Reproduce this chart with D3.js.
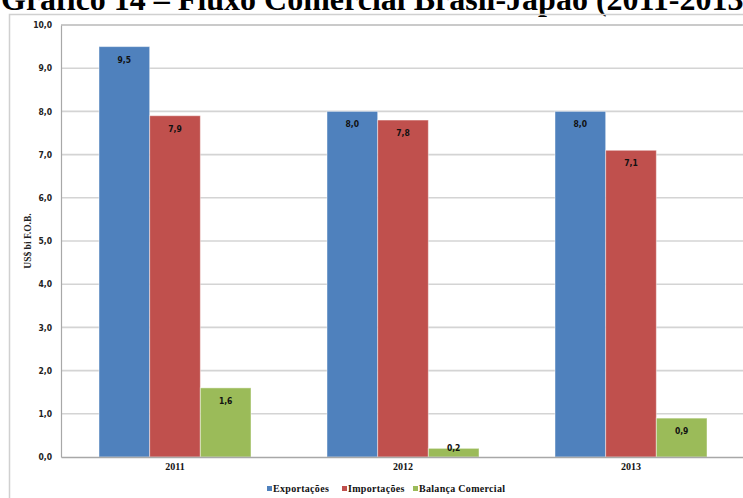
<!DOCTYPE html>
<html>
<head>
<meta charset="utf-8">
<script src="https://cdn.jsdelivr.net/npm/d3@7"></script>
<style>
  html, body { margin: 0; padding: 0; background: #fff; overflow: hidden; }
  svg { display: block; }
</style>
</head>
<body>
<svg id="chart" width="743" height="498"></svg>
<script>
// Trade flow Brazil–Japan, US$ billions F.O.B.
const years = ["2011", "2012", "2013"];
const seriesNames = ["Exportações", "Importações", "Balança Comercial"];
const exportacoes = [9.5, 8.0, 8.0];
const importacoes = [7.9, 7.8, 7.1];
const balanca = [1.6, 0.2, 0.9];
const yTicks = [0, 1, 2, 3, 4, 5, 6, 7, 8, 9, 10];
const colors = ["#4f81bd", "#c0504d", "#9bbb59"];

const seriesValues = [exportacoes, importacoes, balanca];
const rows = years.map((y, i) => ({
  year: y,
  values: seriesNames.map((s, k) => ({ key: s, value: seriesValues[k][i], k }))
}));

const svg = d3.select("#chart");
const W = 743, H = 498;
const plot = { left: 61, right: 745, top: 25, bottom: 457 };

const fmt = v => d3.format(".1f")(v).replace(".", ",");

// Title (runs past the top and right edges of the canvas)
svg.append("text")
  .attr("x", 1).attr("y", 10)
  .attr("font-family", "'Liberation Serif', 'Times New Roman', serif")
  .attr("font-weight", "bold")
  .attr("font-size", 32)
  .attr("fill", "#000")
  .text("Gráfico 14 – Fluxo Comercial Brasil-Japão (2011-2013)");

// Outer chart frame
svg.append("path")
  .attr("d", `M9.5,${H} V14.5 H${W}`)
  .attr("fill", "none")
  .attr("stroke", "#d0d0d0")
  .attr("stroke-width", 1.5);

const x0 = d3.scaleBand().domain(years).range([plot.left, plot.right]).paddingInner(1/3).paddingOuter(1/6);
const x1 = d3.scaleBand().domain(seriesNames).range([0, x0.bandwidth()]);
const y = d3.scaleLinear().domain([0, 10]).range([plot.bottom, plot.top]);

// Horizontal gridlines
svg.append("g")
  .selectAll("line")
  .data(yTicks.filter(t => t > 0))
  .join("line")
  .attr("x1", plot.left).attr("x2", W)
  .attr("y1", d => y(d)).attr("y2", d => y(d))
  .attr("stroke", d => d === 10 ? "#b8b8b8" : "#d4d4d4")
  .attr("stroke-width", 1.6);

// Y axis
const yAxis = d3.axisLeft(y).tickValues(yTicks).tickFormat(fmt).tickSize(0).tickPadding(9);
const gy = svg.append("g").attr("transform", `translate(${plot.left},0)`).call(yAxis);
gy.select(".domain").attr("stroke", "#a8a8a8").attr("stroke-width", 1.2);
gy.selectAll("text")
  .attr("font-family", "'DejaVu Sans Condensed', 'DejaVu Sans', sans-serif")
  .attr("font-weight", "bold")
  .attr("font-size", 8.5)
  .attr("fill", "#222");

// Y axis title
svg.append("text")
  .attr("transform", `translate(31,241) rotate(-90)`)
  .attr("text-anchor", "middle")
  .attr("font-family", "'Liberation Serif', 'Times New Roman', serif")
  .attr("font-weight", "bold")
  .attr("font-size", 9.5)
  .attr("fill", "#222")
  .text("US$ bi F.O.B.");

// Bars
const groups = svg.append("g").selectAll("g")
  .data(rows)
  .join("g")
  .attr("transform", d => `translate(${x0(d.year)},0)`);

groups.selectAll("rect")
  .data(d => d.values)
  .join("rect")
  .attr("x", d => x1(d.key))
  .attr("y", d => y(d.value))
  .attr("width", x1.bandwidth())
  .attr("height", d => y(0) - y(d.value))
  .attr("fill", d => colors[d.k])
  .attr("stroke", "rgba(255,255,255,0.45)")
  .attr("stroke-width", 1);

// Value labels just inside the bar ends (short bars keep theirs above the baseline)
groups.selectAll("text.lbl")
  .data(d => d.values)
  .join("text")
  .attr("class", "lbl")
  .attr("x", d => x1(d.key) + x1.bandwidth() / 2)
  .attr("y", d => Math.min(y(d.value) + 16, plot.bottom - 6))
  .attr("text-anchor", "middle")
  .attr("font-family", "'DejaVu Sans Condensed', 'DejaVu Sans', sans-serif")
  .attr("font-weight", "bold")
  .attr("font-size", 8.5)
  .attr("fill", "#111")
  .text(d => fmt(d.value));

// X axis
const xAxis = d3.axisBottom(x0).tickSize(0).tickPadding(6);
const gx = svg.append("g").attr("transform", `translate(0,${plot.bottom})`).call(xAxis);
gx.select(".domain").attr("stroke", "#a8a8a8").attr("stroke-width", 1.4);
gx.selectAll("text")
  .attr("font-family", "'Liberation Serif', 'Times New Roman', serif")
  .attr("font-weight", "bold")
  .attr("font-size", 10)
  .attr("fill", "#111");

// Legend
const legendX = [267, 342, 413];
const legend = svg.append("g").selectAll("g")
  .data(seriesNames)
  .join("g")
  .attr("transform", (d, i) => `translate(${legendX[i]},491)`);
legend.append("rect")
  .attr("x", 0).attr("y", -5)
  .attr("width", 5).attr("height", 5)
  .attr("fill", (d, i) => colors[i]);
legend.append("text")
  .attr("x", 6).attr("y", 0.5)
  .attr("font-family", "'Liberation Serif', 'Times New Roman', serif")
  .attr("font-weight", "bold")
  .attr("font-size", 10)
  .attr("letter-spacing", 0.3)
  .attr("fill", "#111")
  .text(d => d);
</script>
</body>
</html>
